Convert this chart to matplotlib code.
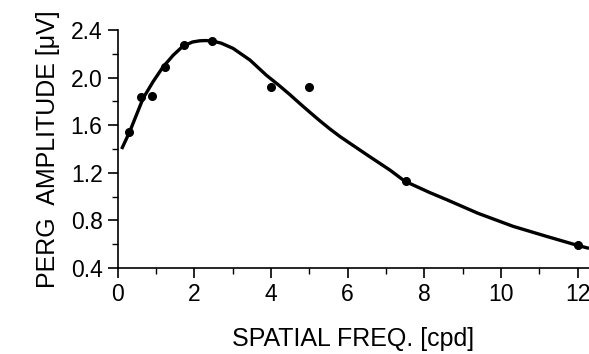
import matplotlib
matplotlib.use("Agg")
import matplotlib.pyplot as plt
from matplotlib.ticker import MultipleLocator

# measured data points
freq = [0.30, 0.60, 0.88, 1.22, 1.74, 2.47, 3.99, 4.99, 7.51, 12.0]
amp = [1.545, 1.835, 1.845, 2.09, 2.275, 2.305, 1.925, 1.925, 1.13, 0.59]

# fitted curve
curve_x = [0.10, 0.31, 0.66, 0.92, 1.18, 1.45, 1.70, 1.95, 2.14, 2.30, 2.47,
           2.70, 3.01, 3.45, 3.88, 4.19, 4.49, 4.75, 5.01, 5.28, 5.54, 5.80, 6.06, 6.58, 7.10,
           7.49, 8.15, 8.58, 9.40, 10.32, 11.20, 12.00, 12.30]
curve_y = [1.40, 1.545, 1.826, 1.966, 2.09, 2.19, 2.265, 2.30, 2.310, 2.312, 2.308,
           2.29, 2.246, 2.148, 2.02, 1.94, 1.858, 1.783, 1.71, 1.636, 1.568, 1.505, 1.448, 1.335, 1.224,
           1.13, 1.033, 0.975, 0.86, 0.75, 0.665, 0.59, 0.565]

xticks = [0, 2, 4, 6, 8, 10, 12]
yticks = [0.4, 0.8, 1.2, 1.6, 2.0, 2.4]

plt.rcParams['font.family'] = ['Liberation Sans', 'DejaVu Sans']

fig = plt.figure(figsize=(5.89, 3.54), dpi=100)
ax = fig.add_axes([0.200, 0.243, 0.800, 0.672])

ax.plot(curve_x, curve_y, color='black', lw=2.4, solid_capstyle='butt',
        solid_joinstyle='round')
ax.plot(freq, amp, 'o', color='black', ms=5.5)

ax.set_xlim(0, 12.3)
ax.set_ylim(0.4, 2.4)
ax.set_xticks(xticks)
ax.set_yticks(yticks)
ax.set_yticklabels([f"{v:.1f}" for v in yticks])
ax.xaxis.set_minor_locator(MultipleLocator(1))
ax.yaxis.set_minor_locator(MultipleLocator(0.2))

for s in ['top', 'right']:
    ax.spines[s].set_visible(False)
for s in ['left', 'bottom']:
    ax.spines[s].set_linewidth(1.2)

ax.tick_params(which='major', direction='out', length=7, width=1.2, labelsize=16.5, pad=4)
ax.tick_params(which='minor', direction='out', length=4, width=1.0)

ax.set_xlabel('SPATIAL FREQ. [cpd]', fontsize=18, labelpad=15)
ax.set_ylabel('PERG  AMPLITUDE [\u03bcV]', fontsize=18, labelpad=8)

fig.savefig('out.png', dpi=100)
